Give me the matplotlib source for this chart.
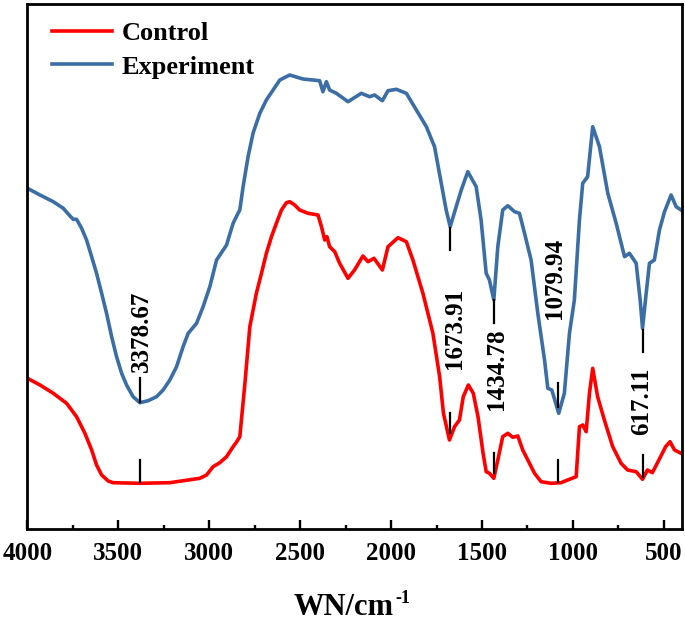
"""FTIR spectra of control vs experiment samples, with labelled absorption bands."""

import matplotlib.pyplot as plt
from matplotlib.ticker import MultipleLocator

# Wavenumbers (cm-1) and transmittance (arbitrary units).
exp_wn = [4000, 3931, 3858, 3803, 3766, 3748, 3730, 3702, 3675, 3647, 3620,
          3592, 3565, 3537, 3510, 3482, 3455, 3419, 3382, 3336, 3290, 3254,
          3217, 3180, 3144, 3116, 3070, 3034, 2997, 2960, 2933, 2905, 2869,
          2842, 2832, 2814, 2787, 2759, 2722, 2686, 2649, 2612, 2558, 2485,
          2393, 2375, 2356, 2338, 2301, 2237, 2164, 2118, 2091, 2048, 2017,
          1971, 1916, 1861, 1806, 1761, 1724, 1697, 1675, 1642, 1614, 1578,
          1532, 1505, 1477, 1459, 1435, 1413, 1386, 1358, 1321, 1294, 1266,
          1230, 1193, 1156, 1138, 1116, 1078, 1047, 1019, 992, 964, 946, 919,
          891, 854, 808, 762, 716, 689, 652, 630, 617, 597, 579, 552, 524,
          496, 460, 432, 405]
exp_t = [340.7, 334, 327.3, 320.7, 313, 309.7, 309.7, 300.7, 289, 272.3,
         255.7, 235.7, 215.7, 192.3, 172.3, 155.7, 144, 132.3, 126.3, 128.3,
         132.3, 139, 149, 162.3, 182.3, 195.7, 205.7, 222.3, 242.3, 269,
         276.3, 284, 305.7, 315.7, 319, 342.3, 372, 396, 415.7, 429, 439,
         449, 454, 450, 448.3, 437.3, 447.3, 439, 435.7, 427.3, 435.7, 432.3,
         434, 428.3, 438.3, 439.7, 435.7, 419, 402.3, 382.3, 345.7, 319,
         302.3, 322.3, 339, 357.3, 342.3, 309, 255.7, 249, 229, 282.3, 319,
         323.3, 317.3, 315.7, 295.7, 269, 215.7, 169, 140.7, 139, 115.7,
         135.7, 195.7, 229, 309, 345.7, 352.3, 402.3, 382.3, 335.7, 305.7,
         272.3, 275.7, 265.7, 229, 200.7, 235.7, 265.7, 269, 299, 317.3, 334,
         322.3, 319]

ctrl_wn = [4000, 3931, 3858, 3785, 3730, 3684, 3647, 3620, 3592, 3556, 3529,
           3382, 3217, 3052, 3015, 2979, 2942, 2905, 2869, 2850, 2832, 2804,
           2777, 2741, 2713, 2686, 2658, 2631, 2603, 2576, 2558, 2530, 2503,
           2457, 2402, 2383, 2365, 2353, 2338, 2310, 2283, 2237, 2201, 2155,
           2127, 2094, 2048, 2017, 1962, 1916, 1880, 1825, 1770, 1733, 1712,
           1679, 1651, 1624, 1603, 1575, 1548, 1522, 1494, 1477, 1459, 1435,
           1413, 1386, 1358, 1331, 1303, 1276, 1248, 1211, 1175, 1120, 1065,
           1019, 982, 964, 946, 927, 909, 891, 864, 827, 781, 735, 699, 652,
           617, 590, 563, 527, 490, 466, 441, 405]
ctrl_t = [150.7, 144, 135.7, 125.7, 112.3, 95.7, 79, 64, 54, 48, 46.3, 45.7,
          46.3, 50.7, 54, 62.3, 66.3, 72.3, 82.3, 87, 92.3, 145.7, 202.3,
          235.7, 255.7, 275.7, 292.3, 305.7, 319, 326.3, 327.3, 324, 319,
          315.7, 314, 302.3, 289, 292.3, 282.3, 277.3, 265.7, 250.7, 259, 273,
          267.3, 270.7, 259, 282.3, 291.3, 287.3, 269, 235.7, 195.7, 152.3,
          115.7, 89, 102.3, 109, 132.3, 144, 135.7, 112.3, 75.7, 57.3, 55.7,
          50.7, 69, 92.3, 95.7, 91.7, 93, 79, 69, 55.7, 47.3, 45.7, 46.3,
          49.7, 52.3, 102.3, 104, 97.3, 135.7, 160.7, 132.3, 109, 82.3, 65.7,
          59, 57.3, 49.7, 59, 56.3, 69, 82.3, 87.3, 79, 75.7]

# Labelled bands
peak_wn = [3378.67, 1673.91, 1434.78, 1079.94, 617.11]
peak_labels = ["3378.67", "1673.91", "1434.78", "1079.94", "617.11"]

RED = "#ff0000"
BLUE = "#3a6ea5"
FONT = "Liberation Serif"

plt.rcParams["font.family"] = [FONT, "DejaVu Serif"]
plt.rcParams["font.weight"] = "bold"

fig = plt.figure(figsize=(6.85, 6.25), dpi=100)
ax = fig.add_axes([0.0401, 0.1536, 0.9555, 0.84])

ax.plot(ctrl_wn, ctrl_t, color=RED, lw=2.6, solid_joinstyle="round",
        label="Control")
ax.plot(exp_wn, exp_t, color=BLUE, lw=2.6, solid_joinstyle="round",
        label="Experiment")

# Marker lines: (blue segment, red segment) and label placement per band
blue_seg = [(127, 151), (279, 301), (206, 229), (122, 146), (177, 199)]
red_seg = [(47, 69), (96, 116), (56, 76), (47, 69), (52, 74)]
text_pos = [(3373, 157, "bottom"), (1652, 241, "top"), (1420, 201, "top"),
            (1102, 210, "bottom"), (622, 161, "top")]
for wn, lab, bs, rs, tp in zip(peak_wn, peak_labels, blue_seg, red_seg,
                               text_pos):
    ax.plot([wn, wn], bs, color="black", lw=1.6)
    ax.plot([wn, wn], rs, color="black", lw=1.6)
    ax.text(tp[0], tp[1], lab, rotation=90, ha="center", va=tp[2],
            fontsize=18, fontweight="bold")

ax.set_xlim(4000, 400)
ax.set_ylim(0, 525)
ax.xaxis.set_major_locator(MultipleLocator(500))
ax.xaxis.set_minor_locator(MultipleLocator(250))
ax.set_yticks([])
ax.tick_params(axis="x", which="major", direction="in", length=6.5,
               width=1.7, labelsize=18, pad=9)
ax.tick_params(axis="x", which="minor", direction="in", length=3, width=1.7)
for lbl in ax.get_xticklabels():
    lbl.set_fontweight("bold")
for sp in ax.spines.values():
    sp.set_linewidth(2)
    sp.set_color("black")

# Axis title with a small raised "-1"
fig.text(394 / 685, 10 / 625, "WN/cm", ha="right", va="baseline",
         fontsize=22, fontweight="bold")
fig.text(395 / 685, 22 / 625, "-1", ha="left", va="baseline",
         fontsize=13, fontweight="bold")

leg = ax.legend(loc="upper left", bbox_to_anchor=(0.037, 0.966),
                frameon=False, handlelength=2.3, handletextpad=0.35,
                borderpad=0, borderaxespad=0, labelspacing=0.375,
                prop={"family": FONT, "weight": "bold", "size": 19})
for h in leg.get_lines():
    h.set_linewidth(2.6)

fig.savefig("out.png", dpi=100)
